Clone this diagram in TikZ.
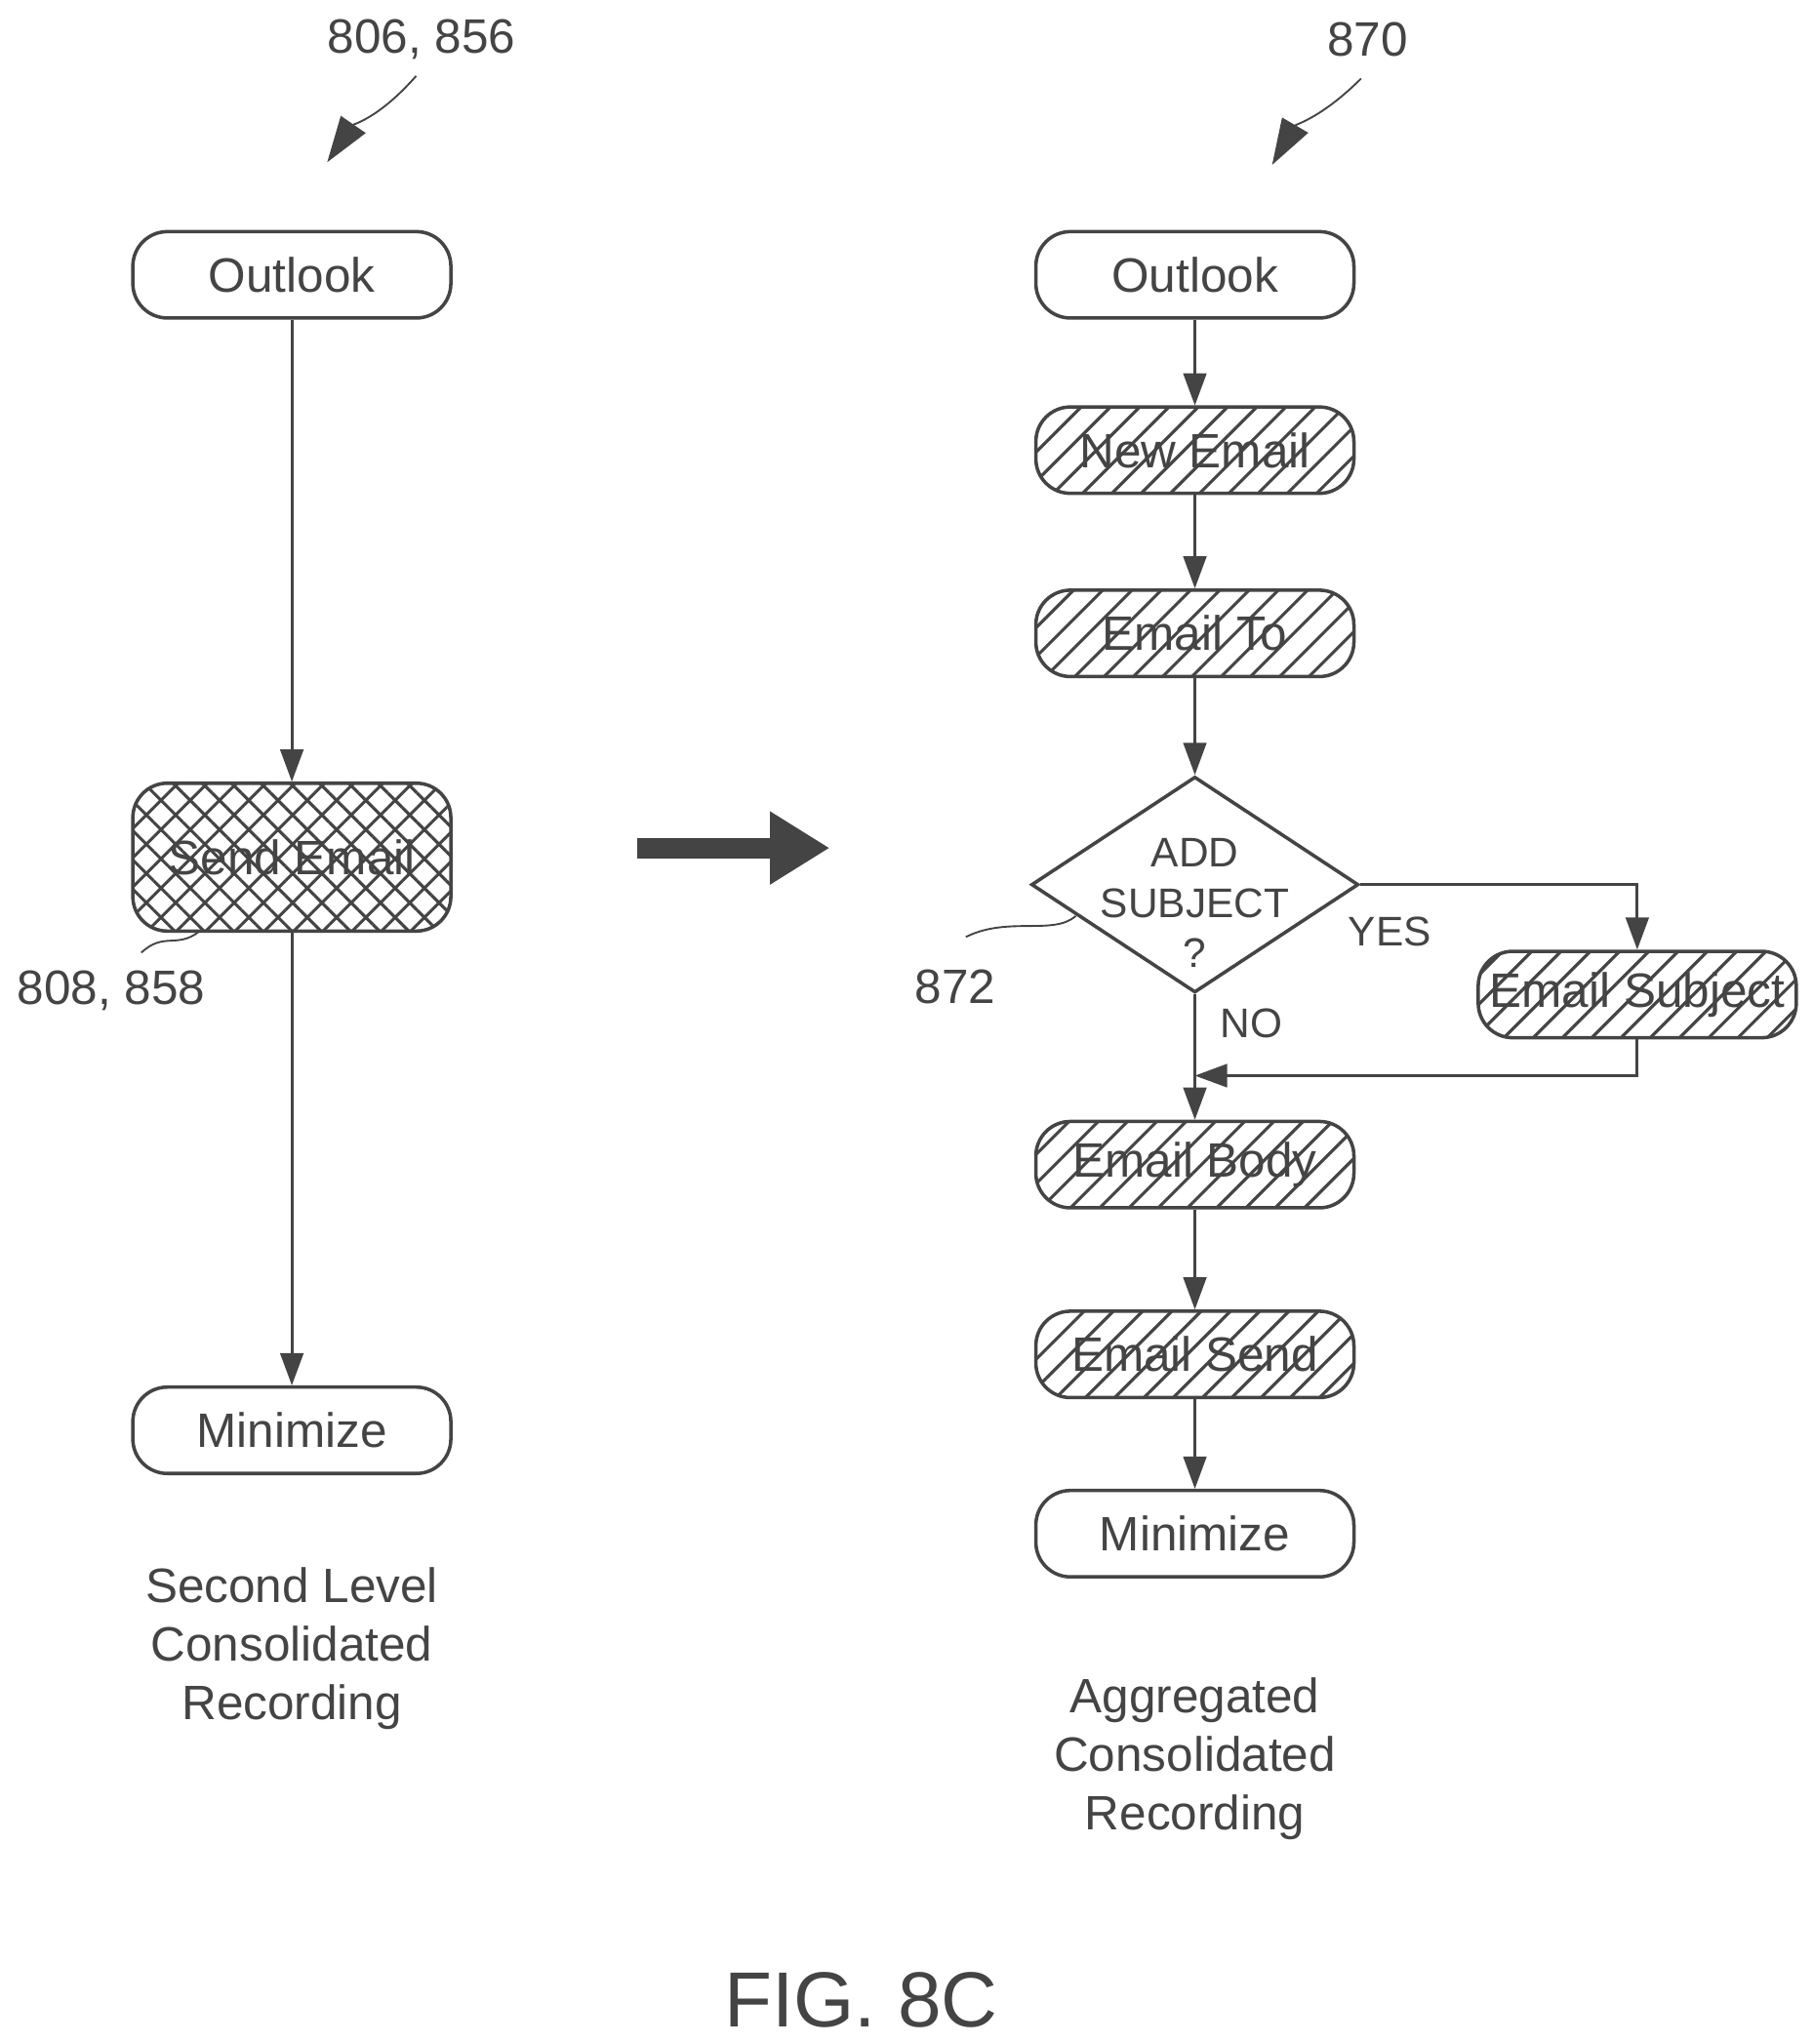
\documentclass[tikz,border=0pt]{standalone}
\usepackage{fontspec}
\setmainfont{Liberation Sans}
\usetikzlibrary{shapes.geometric,patterns.meta,arrows.meta,decorations.pathmorphing}
\definecolor{ink}{HTML}{444444}
\begin{document}
\begin{tikzpicture}[x=0.02cm,y=-0.02cm,
  every node/.style={text=ink},
  box/.style={draw=ink,line width=1.5pt,rounded corners=15pt,minimum width=243*0.02cm,minimum height=66*0.02cm,inner sep=0pt,font=\fontsize{21}{25}\selectfont},
  hat/.style={box,pattern={Lines[angle=45,distance=9pt,line width=1.3pt]},pattern color=ink},
  xhat/.style={box,pattern={Hatch[angle=45,distance=9pt,line width=1.3pt]},pattern color=ink},
  arr/.style={draw=ink,line width=1.2pt,-{Triangle[length=14pt,width=10pt,fill=ink]}},
  lbl/.style={font=\fontsize{21}{25}\selectfont},
  small/.style={font=\fontsize{18}{22}\selectfont},
  captxt/.style={font=\fontsize{21}{25.5}\selectfont,align=center}]
\useasboundingbox (0,0) rectangle (1385,1562);
% left
\node[box] (lo) at (223,210) {Outlook};
\node[xhat,minimum height=113*0.02cm] (se) at (223,655) {Send Email};
\node[box] (lm) at (223,1093) {Minimize};
\draw[arr] (lo) -- (se);
\draw[arr] (se) -- (lm);
\node[captxt] (lc) at (223,1260) {Second Level\\Consolidated\\Recording};
% right
\node[box] (ro) at (913,210) {Outlook};
\node[hat] (ne) at (913,344) {New Email};
\node[hat] (et) at (913,484) {Email To};
\node[draw=ink,line width=1.5pt,diamond,aspect=1.52,minimum width=250*0.02cm,minimum height=165*0.02cm,inner sep=0pt] (d) at (913,676) {};
\node[small,align=center] (dt) at (913,690) {ADD\\SUBJECT\\?};
\node[hat] (es) at (1251,760) {Email Subject};
\node[hat] (eb) at (913,890) {Email Body};
\node[hat] (esd) at (913,1035) {Email Send};
\node[box] (rm) at (913,1172) {Minimize};
\draw[arr] (ro) -- (ne);
\draw[arr] (ne) -- (et);
\draw[arr] (et) -- (d.north);
\draw[arr] (d.east) -| (es.north);
\coordinate (j) at (913,822);
\draw[arr] (es.south) |- (j);
\draw[arr] (d.south) -- (eb);
\draw[arr] (eb) -- (esd);
\draw[arr] (esd) -- (rm);
\node[small] (no) at (956,782) {NO};
\node[small] (yes) at (1062,712) {YES};
\node[captxt] (rc) at (913,1344) {Aggregated\\Consolidated\\Recording};
% big arrow
\coordinate (ba) at (487,648); \coordinate (bb) at (634,648);
\draw[ink,line width=9pt,-{Triangle[length=26pt,width=30pt]}] (ba) -- (bb);
% refs
\node[lbl] (r1) at (322,30) {806, 856};
\coordinate (r1a) at (318,58); \coordinate (r1b) at (250,124);
\draw[ink,line width=0.8pt,-{Triangle[length=20pt,width=13pt]}] (r1a) .. controls (290,90) and (270,95) .. (r1b);
\node[lbl] (r2) at (1045,30) {870};
\coordinate (r2a) at (1040,60); \coordinate (r2b) at (972,126);
\draw[ink,line width=0.8pt,-{Triangle[length=20pt,width=13pt]}] (r2a) .. controls (1010,90) and (990,95) .. (r2b);
\node[lbl] (r3) at (85,757) {808, 858};
\coordinate (r3a) at (152,712);
\draw[ink,line width=0.8pt] (r3a) .. controls (135,725) and (125,712) .. (108,728);
\node[lbl] (r4) at (730,754) {872};
\coordinate (r4a) at (822,700);
\draw[ink,line width=0.8pt] (r4a) .. controls (805,715) and (770,700) .. (738,716);
\node[font=\fontsize{34}{40}\selectfont] (fig) at (658,1528) {FIG. 8C};
\end{tikzpicture}
\end{document}
